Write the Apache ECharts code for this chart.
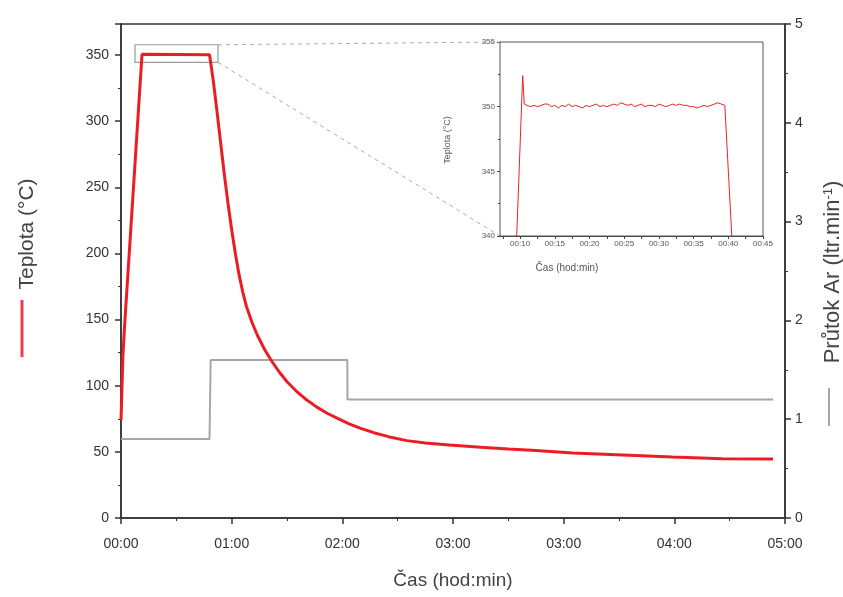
<!DOCTYPE html>
<html><head><meta charset="utf-8">
<script src="https://cdn.jsdelivr.net/npm/echarts@6/dist/echarts.min.js"></script>
<style>html,body{margin:0;padding:0;background:#fff}#c{width:843px;height:597px}</style>
</head><body><div id="c"></div>
<script>
// ---- data (time in minutes along the main axis) ----
var xTickLabels = ['00:00','01:00','02:00','03:00','03:00','04:00','05:00'];
var tempTimes = [0, 0.5, 1.0, 1.8, 11.4, 12.0, 48.0, 48.3, 50, 52, 54, 56, 58, 60, 62, 64, 66, 68, 71, 74, 78, 82, 86, 90, 95, 100, 106, 112, 118, 124, 130, 137, 145, 155, 165, 178, 195, 210, 225, 245, 272, 299, 326, 353.5];
var tempValues = [74, 97, 121, 142, 350.6, 350.3, 350.3, 349, 331, 308, 284, 260, 238, 218, 200, 184, 171, 160, 148, 138, 127, 118, 110, 103, 96, 90, 84, 79, 75, 71, 67.8, 64.5, 61.5, 58.5, 56.7, 55.2, 53.5, 52.2, 51, 49.2, 47.7, 46.1, 44.8, 44.6];
var arTimes = [0, 48.0, 48.6, 122.7, 122.8, 353.5];
var arFlow  = [0.8, 0.8, 1.6, 1.6, 1.2, 1.2];
// inset (minutes, °C)
var insetTimes = [9.3, 10.37, 10.6, 11, 11.5, 12, 12.5, 13, 13.5, 14, 14.5, 15, 15.5, 16, 16.5, 17, 17.5, 18, 18.5, 19, 19.5, 20, 20.5, 21, 21.5, 22, 22.5, 23, 23.5, 24, 24.5, 25, 25.5, 26, 26.5, 27, 27.5, 28, 28.5, 29, 29.5, 30, 30.5, 31, 31.5, 32, 32.5, 33, 33.5, 34, 34.5, 35, 35.5, 36, 36.5, 37, 37.5, 38, 38.5, 39, 39.5, 39.77, 40.7];
var insetTemps = [337, 352.4, 350.2, 350.1, 350.0, 350.1, 350.0, 350.1, 350.2, 350.2, 350.0, 350.1, 349.9, 350.1, 350.0, 350.2, 350.0, 350.1, 350.0, 349.9, 350.1, 350.0, 350.1, 350.2, 350.0, 350.1, 350.0, 350.1, 350.2, 350.1, 350.3, 350.2, 350.1, 350.2, 350.0, 350.1, 350.2, 350.0, 350.1, 350.1, 350.0, 350.2, 350.1, 350.0, 350.1, 350.2, 350.1, 350.2, 350.1, 350.1, 350.0, 350.0, 349.9, 350.0, 350.1, 350.0, 350.1, 350.2, 350.3, 350.2, 350.1, 350.0, 338];
var insetXLabels = [10, 15, 20, 25, 30, 35, 40, 45];
var insetXTicks = [7.5, 10, 12.5, 15, 17.5, 20, 22.5, 25, 27.5, 30, 32.5, 35, 37.5, 40, 42.5, 45];
var zoomBox = [[7.6, 344.5], [52.6, 357.8]];

function pairs(a, b) { return a.map(function (v, i) { return [v, b[i]]; }); }

var FONT = 'Liberation Sans, Arial, sans-serif';
var AX = {color: '#333', width: 1.5};
var chart = echarts.init(document.getElementById('c'));
var option = {
  backgroundColor: '#fff',
  animation: false,
  grid: [
    {left: 121, right: 58, top: 24, bottom: 79, show: true, borderColor: '#333', borderWidth: 1.5},
    {left: 500, top: 42, width: 263, height: 194, show: true, borderColor: '#555', borderWidth: 1, backgroundColor: '#fff', z: 5}
  ],
  xAxis: [
    {gridIndex: 0, type: 'value', min: 0, max: 360, interval: 60,
     axisLine: {lineStyle: AX}, axisTick: {length: 6, lineStyle: AX},
     minorTick: {show: true, splitNumber: 2, length: 3, lineStyle: {color: '#333'}},
     splitLine: {show: false},
     axisLabel: {fontFamily: FONT, fontSize: 14, color: '#333', margin: 19,
       formatter: function (v) { return xTickLabels[Math.round(v / 60)]; }}},
    {gridIndex: 1, type: 'value', min: 7.1, max: 45,
     axisLine: {lineStyle: {color: '#444', width: 1}},
     axisTick: {length: 3, customValues: insetXTicks, lineStyle: {color: '#444'}},
     splitLine: {show: false},
     axisLabel: {fontFamily: FONT, fontSize: 8, color: '#555', margin: 4, customValues: insetXLabels,
       formatter: function (v) { return '00:' + v; }}}
  ],
  yAxis: [
    {gridIndex: 0, type: 'value', min: 0, max: 373.5, interval: 50,
     axisLine: {show: true, lineStyle: AX}, axisTick: {length: 6, lineStyle: AX},
     minorTick: {show: true, splitNumber: 2, length: 3, lineStyle: {color: '#333'}},
     splitLine: {show: false},
     axisLabel: {fontFamily: FONT, fontSize: 14, color: '#333', margin: 12,
       formatter: function (v) { return v % 50 === 0 ? String(v) : ''; }}},
    {gridIndex: 0, type: 'value', position: 'right', min: 0, max: 5, interval: 1,
     axisLine: {show: true, lineStyle: AX}, axisTick: {length: 6, lineStyle: AX},
     minorTick: {show: true, splitNumber: 2, length: 3, lineStyle: {color: '#333'}},
     splitLine: {show: false},
     axisLabel: {fontFamily: FONT, fontSize: 14, color: '#333', margin: 10}},
    {gridIndex: 1, type: 'value', min: 340, max: 355, interval: 5,
     axisLine: {show: true, lineStyle: {color: '#444', width: 1}},
     axisTick: {length: 3, lineStyle: {color: '#444'}},
     minorTick: {show: true, splitNumber: 2, length: 2, lineStyle: {color: '#444'}},
     splitLine: {show: true, lineStyle: {color: '#999', width: 1}},
     axisLabel: {fontFamily: FONT, fontSize: 8, color: '#555', margin: 5}}
  ],
  series: [
    {type: 'line', xAxisIndex: 0, yAxisIndex: 1, data: pairs(arTimes, arFlow), showSymbol: false,
     lineStyle: {color: '#a6a6a6', width: 2}, z: 2},
    {type: 'line', xAxisIndex: 0, yAxisIndex: 0, data: pairs(tempTimes, tempValues), showSymbol: false,
     lineStyle: {color: '#ec1c24', width: 3}, z: 3,
     markArea: {silent: true, itemStyle: {color: 'rgba(0,0,0,0)', borderColor: '#9a9a9a', borderWidth: 1.2},
       data: [[{coord: zoomBox[0]}, {coord: zoomBox[1]}]]}},
    {type: 'line', xAxisIndex: 1, yAxisIndex: 2, data: pairs(insetTimes, insetTemps), showSymbol: false,
     lineStyle: {color: '#e8232b', width: 1}, z: 6, clip: true}
  ]
};
chart.setOption(option);

var p1 = chart.convertToPixel({xAxisIndex: 0, yAxisIndex: 0}, [zoomBox[1][0], zoomBox[1][1]]);
var p2 = chart.convertToPixel({xAxisIndex: 0, yAxisIndex: 0}, [zoomBox[1][0], zoomBox[0][1]]);
var q1 = chart.convertToPixel({xAxisIndex: 1, yAxisIndex: 2}, [7.1, 355]);
var q2 = chart.convertToPixel({xAxisIndex: 1, yAxisIndex: 2}, [7.1, 340]);
var dash = {stroke: '#aaa', lineWidth: 1, lineDash: [4, 4]};
chart.setOption({
  graphic: [
    {type: 'line', shape: {x1: p1[0], y1: p1[1], x2: q1[0], y2: q1[1]}, style: dash, z: 1},
    {type: 'line', shape: {x1: p2[0], y1: p2[1], x2: q2[0], y2: q2[1]}, style: dash, z: 1},
    {type: 'text', x: 27, y: 234, rotation: Math.PI / 2,
     style: {text: 'Teplota (°C)', font: '21px ' + FONT, fill: '#444', align: 'center', verticalAlign: 'middle'}},
    {type: 'line', shape: {x1: 22, y1: 300, x2: 22, y2: 357}, style: {stroke: '#ef3a4a', lineWidth: 3}},
    {type: 'text', x: 833, y: 272, rotation: Math.PI / 2,
     style: {text: '{t|Průtok Ar (ltr.min}{s|-1}{t|)}', align: 'center', verticalAlign: 'middle',
       rich: {t: {font: '22px ' + FONT, fill: '#444'}, s: {font: '13px ' + FONT, fill: '#444', verticalAlign: 'top', padding: [0, 0, 9, 0]}}}},
    {type: 'line', shape: {x1: 829, y1: 388, x2: 829, y2: 426}, style: {stroke: '#a6a6a6', lineWidth: 2}},
    {type: 'text', x: 453, y: 581,
     style: {text: 'Čas (hod:min)', font: '19px ' + FONT, fill: '#444', align: 'center', verticalAlign: 'middle'}},
    {type: 'text', x: 448, y: 140, rotation: Math.PI / 2, z: 10,
     style: {text: 'Teplota (°C)', font: '9px ' + FONT, fill: '#555', align: 'center', verticalAlign: 'middle'}},
    {type: 'text', x: 567, y: 268, z: 10,
     style: {text: 'Čas (hod:min)', font: '10px ' + FONT, fill: '#555', align: 'center', verticalAlign: 'middle'}}
  ]
});
</script>
</body></html>
